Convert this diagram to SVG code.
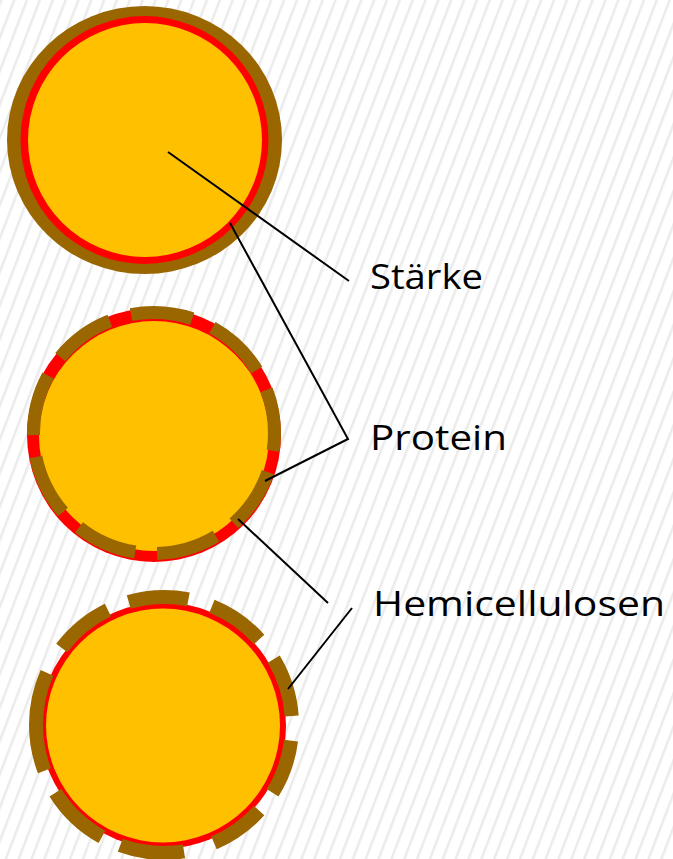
<svg xmlns="http://www.w3.org/2000/svg" width="673" height="859" viewBox="0 0 673 859">
<defs>
<pattern id="hatch" width="12" height="12" patternUnits="userSpaceOnUse" patternTransform="rotate(21)">
<rect width="12" height="12" fill="#ffffff"/>
<rect x="0" y="0" width="2.5" height="12" fill="#ebebeb"/>
</pattern>
<style>
.brown{fill:#996600}
.red{fill:#ff0000}
.yellow{fill:#ffc000}
.ring{fill:none;stroke:#996600}
.lead{stroke:#000;stroke-width:2;fill:none}
.lbl{font-family:"Open Sans","Noto Sans",sans-serif;font-size:34px;fill:#000}
</style>
</defs>
<rect width="673" height="859" fill="url(#hatch)"/>
<g id="granule1">
<ellipse class="brown" cx="144.5" cy="140" rx="137.5" ry="134"/>
<circle class="red" cx="144.5" cy="140" r="124"/>
<circle class="yellow" cx="145" cy="140" r="117"/>
</g>
<g id="granule2">
<circle class="red" cx="154" cy="435" r="127"/>
<circle class="yellow" cx="154" cy="436" r="115"/>
<circle class="ring" cx="154" cy="433" r="120.5" stroke-width="13" pathLength="360" stroke-dasharray="29.5 10.5" stroke-dashoffset="21"/>
</g>
<g id="granule3">
<circle class="red" cx="163" cy="725.5" r="123"/>
<circle class="yellow" cx="163" cy="725.5" r="117"/>
<circle class="ring" cx="164" cy="725" r="128" stroke-width="14" pathLength="360" stroke-dasharray="0 7 25 10 25 14 29 9 29 11 45 13 27 10 27 11 26 11 27 4"/>
</g>
<g id="connectors">
<line class="lead" x1="168" y1="152" x2="349" y2="281"/>
<polyline class="lead" points="230,223 348,439 265,481"/>
<line class="lead" x1="238" y1="519" x2="328" y2="603"/>
<line class="lead" x1="352" y1="608" x2="288" y2="689"/>
</g>
<g id="labels">
<text class="lbl" x="370" y="289" textLength="113" lengthAdjust="spacingAndGlyphs">Stärke</text>
<text class="lbl" x="370" y="450" textLength="137" lengthAdjust="spacingAndGlyphs">Protein</text>
<text class="lbl" x="373" y="616" textLength="292" lengthAdjust="spacingAndGlyphs">Hemicellulosen</text>
</g>
</svg>
